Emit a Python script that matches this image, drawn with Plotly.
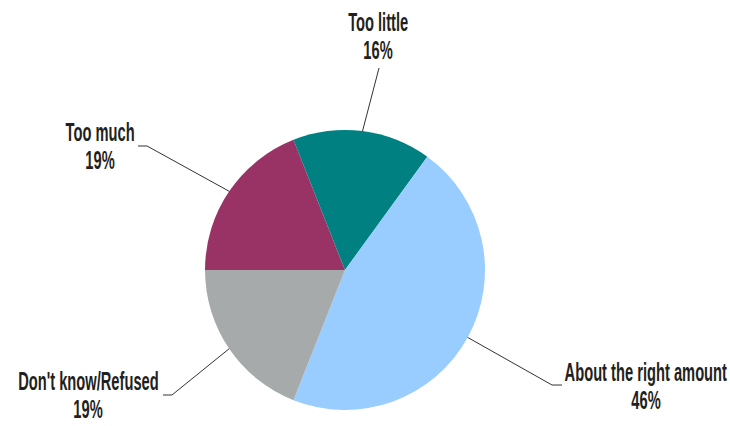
import math
import plotly.graph_objects as go

# Survey responses (percent), listed clockwise from 9 o'clock
labels = ["Too much", "Too little", "About the right amount", "Don't know/Refused"]
values = [19, 16, 46, 19]
colors = ["#993366", "#008080", "#99CCFF", "#A6AAAB"]

W, H = 730, 426
CX, CY, R = 345, 270, 140          # pie centre and radius in pixels
START = 270                        # first slice begins at 9 o'clock

# Label placement: x centre, y of name line, y of percent line (pixels)
label_pos = [(100, 132, 160), (378, 22, 50), (646, 372, 400), (88, 381, 409)]
# Leader line end next to each label, and the short horizontal run before it
line_end = [(138, 146), (379, 68), (562, 385), (163, 395)]
elbow_dx = [9, 0, -10, 9]

FONT = "Liberation Sans, Arial, sans-serif"
FONT_SIZE = 26
CONDENSE = 0.565                   # horizontal squeeze for a condensed look


def px(x, y):
    return x / W, 1 - y / H


fig = go.Figure(go.Pie(
    labels=labels, values=values,
    marker=dict(colors=colors, line=dict(width=0)),
    sort=False, direction="clockwise", rotation=START,
    textinfo="none", hoverinfo="label+percent", showlegend=False,
    domain=dict(x=[(CX - R) / W, (CX + R) / W],
                y=[1 - (CY + R) / H, 1 - (CY - R) / H]),
))

total = sum(values)
acc = 0
shapes, annotations = [], []
for i, (lab, v) in enumerate(zip(labels, values)):
    mid = START + (acc + v / 2) / total * 360
    acc += v
    a = math.radians(mid)
    ex, ey = CX + R * math.sin(a), CY - R * math.cos(a)
    lx, ly = line_end[i]
    bx = lx + elbow_dx[i]
    pts = [(ex, ey), (bx, ly), (lx, ly)]
    path = "M " + " L ".join("{:.4f},{:.4f}".format(*px(x, y)) for x, y in pts)
    shapes.append(dict(type="path", path=path, xref="paper", yref="paper",
                       line=dict(color="#333333", width=1)))
    cx, y1, y2 = label_pos[i]
    for text, yy in ((lab, y1), (f"{round(v / total * 100)}%", y2)):
        tx, ty = px(cx, yy)
        annotations.append(dict(
            x=tx, y=ty, xref="paper", yref="paper", showarrow=False,
            xanchor="center", yanchor="middle", align="center", text=text,
            font=dict(family=FONT, size=FONT_SIZE, color="#231F20", weight="bold"),
        ))

fig.update_layout(
    width=W, height=H,
    margin=dict(l=0, r=0, t=0, b=0),
    paper_bgcolor="white", plot_bgcolor="white",
    shapes=shapes, annotations=annotations,
)

# Squeeze label text horizontally about its own centre
condense_js = """
var gd = document.getElementById('{plot_id}');
gd.querySelectorAll('text.annotation-text').forEach(function (el) {
  var b = el.getBBox();
  var c = b.x + b.width / 2;
  var t = el.getAttribute('transform') || '';
  el.setAttribute('transform', t + ' translate(' + c + ',0) scale(%s,1) translate(' + (-c) + ',0)');
});
""" % CONDENSE

fig.write_html("out.html", post_script=condense_js)
